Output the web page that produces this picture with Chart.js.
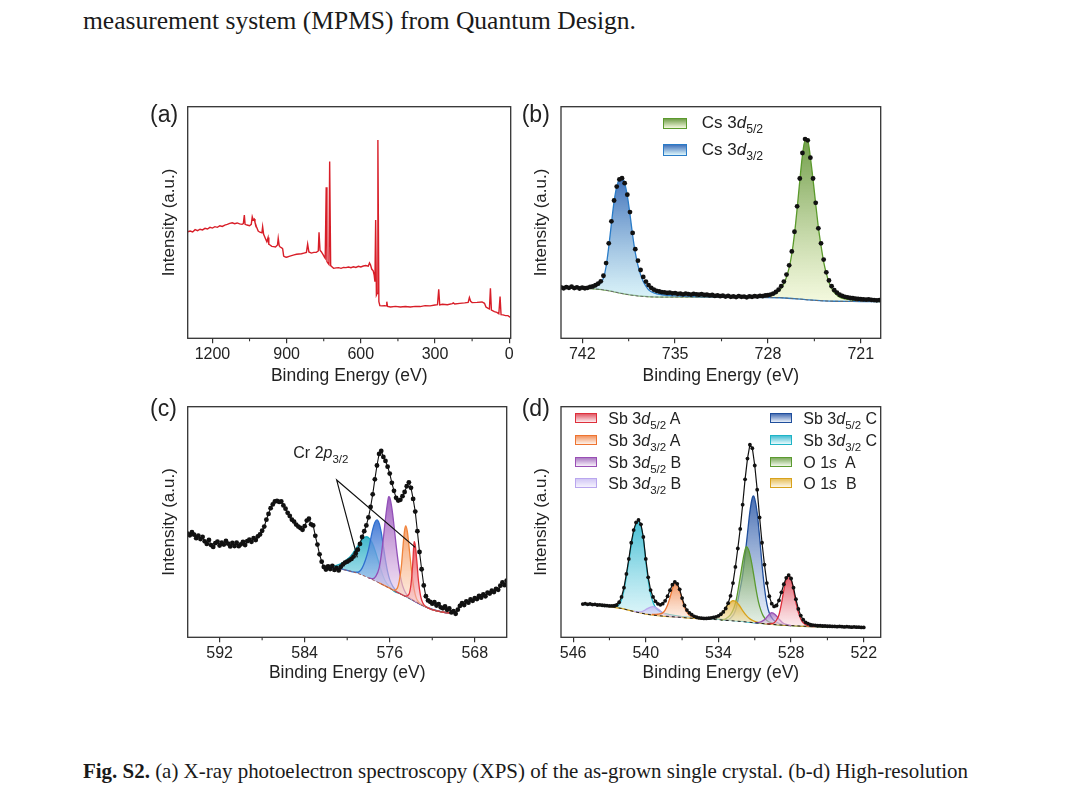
<!DOCTYPE html>
<html>
<head>
<meta charset="utf-8">
<script src="https://cdn.jsdelivr.net/npm/chart.js@4.4.1/dist/chart.umd.min.js"></script>
<style>
  html, body { margin: 0; padding: 0; background: #fff; }
  body { width: 1080px; height: 802px; position: relative; overflow: hidden; }
  canvas { position: absolute; }
  .t { position: absolute; white-space: nowrap; color: #1a1a1a; }
  .serif { font-family: "Liberation Serif", "Times New Roman", serif; transform-origin: 0 0; display: inline-block; }
  .sans { font-family: "Liberation Sans", Arial, sans-serif; color: #222; }
  .sw { position: absolute; box-sizing: border-box; }
  sub { font-size: 0.72em; line-height: 0; position: relative; top: 0.05em; vertical-align: sub; }
</style>
</head>
<body>
<div class="t serif" id="topText" style="left:83px; top:8.4px; font-size:25px; line-height:25px;">measurement system (MPMS) from Quantum Design.</div>

<canvas id="ca" width="380" height="300" style="left:140px; top:95px;"></canvas>
<canvas id="cb" width="380" height="300" style="left:514px; top:95px;"></canvas>
<canvas id="cc" width="380" height="300" style="left:140px; top:395px;"></canvas>
<canvas id="cd" width="380" height="300" style="left:514px; top:395px;"></canvas>

<div class="t sans" style="left:150px; top:103.2px; font-size:23px; line-height:23px;">(a)</div>
<div class="t sans" style="left:521.7px; top:103.2px; font-size:23px; line-height:23px;">(b)</div>
<div class="t sans" style="left:150px; top:397.3px; font-size:23px; line-height:23px;">(c)</div>
<div class="t sans" style="left:521.7px; top:397.3px; font-size:23px; line-height:23px;">(d)</div>

<div class="t sans" style="left:293.3px; top:444.8px; font-size:16px; line-height:16px;">Cr 2<i>p</i><sub>3/2</sub></div>

<div id="legendB"></div>
<div id="legendD"></div>

<div class="t serif" id="caption" style="left:83px; top:760.7px; font-size:21px; line-height:21px;"><b>Fig. S2.</b> (a) X-ray photoelectron spectroscopy (XPS) of the as-grown single crystal. (b-d) High-resolution</div>

<script>
// ---------------- DATA ----------------
// (a) survey spectrum
const aEnergy = [1300,1290,1280,1270,1260,1250,1240,1230,1220,1210,1200,1190,1180,1170,1160,1150,1140,1130,1120,1110,1100,1090,1080,1075,1071,1068,1060,1050,1043,1039,1035,1031,1028,1022,1015,1008,1000,997,993,985,980,975,972,967,960,953,945,937,934,930,926,920,916,912,905,900,890,880,870,860,850,840,830,820,815,810,800,790,780,772,769,765,760,752,746,744,740,737,733,729,726,722,716,710,700,690,680,670,660,650,640,630,620,610,600,590,580,570,565,561,556,550,546,543,540,537,534,531,527,523,515,505,498,495,492,480,460,440,420,400,380,360,340,320,300,290,285,281,270,250,230,226,220,200,180,166,161,156,150,130,110,100,94,85,80,76,72,60,50,42,37,33,25,15,5,-2,-6];
const aIntensity = [46.0,46.3,45.9,46.9,46.5,47.1,46.8,47.5,47.2,47.9,47.6,48.2,47.9,48.6,48.3,48.9,49.2,49.6,49.9,49.5,49.8,49.4,49.2,49.5,53.2,49.2,48.9,48.6,49.2,52.5,51.1,51.5,50.1,48.2,46.3,45.8,45.5,48.2,44.9,42.9,41.7,43.5,40.6,40.3,39.7,39.6,39.4,40.3,43.2,40.0,39.4,39.1,38.6,35.5,35.1,35.0,35.4,35.7,36.0,36.3,36.4,36.5,36.8,37.1,40.7,37.3,36.8,37.1,37.1,37.7,45.8,38.0,37.4,36.0,34.8,34.5,65.2,33.1,32.5,31.9,76.3,31.4,30.8,30.2,30.4,30.5,30.2,30.6,30.5,30.8,30.5,30.9,30.6,31.1,30.8,31.2,31.4,31.1,32.5,31.7,29.9,29.1,27.3,24.5,51.1,18.7,19.4,85.6,15.8,14.1,14.0,14.1,14.0,15.8,13.8,13.5,13.8,13.5,13.7,13.5,13.8,13.7,14.1,14.0,14.4,14.5,21.2,14.4,14.7,14.5,15.0,15.3,14.8,15.1,15.3,15.5,17.6,16.0,15.4,15.5,15.7,15.1,13.5,12.9,12.7,21.6,12.2,11.5,11.2,10.6,18.0,10.2,10.1,9.8,9.8,9.2,9.4];
const aTicks = [1200, 900, 600, 300, 0];
const aMinor = [1050, 750, 450, 150];

// (b) Cs 3d
const bEnergy = [743.6,743.4,743.2,743.0,742.8,742.6,742.4,742.2,742.0,741.8,741.6,741.4,741.2,741.0,740.8,740.6,740.4,740.2,740.0,739.8,739.6,739.4,739.2,739.0,738.8,738.6,738.4,738.2,738.0,737.8,737.6,737.4,737.2,737.0,736.8,736.6,736.4,736.2,736.0,735.8,735.6,735.4,735.2,735.0,734.8,734.6,734.4,734.2,734.0,733.8,733.6,733.4,733.2,733.0,732.8,732.6,732.4,732.2,732.0,731.8,731.6,731.4,731.2,731.0,730.8,730.6,730.4,730.2,730.0,729.8,729.6,729.4,729.2,729.0,728.8,728.6,728.4,728.2,728.0,727.8,727.6,727.4,727.2,727.0,726.8,726.6,726.4,726.2,726.0,725.8,725.6,725.4,725.2,725.0,724.8,724.6,724.4,724.2,724.0,723.8,723.6,723.4,723.2,723.0,722.8,722.6,722.4,722.2,722.0,721.8,721.6,721.4,721.2,721.0,720.8,720.6,720.4,720.2,720.0,719.8,719.6];
const bCounts = [22.0,21.6,22.1,21.8,22.3,21.7,22.0,21.5,21.9,21.6,21.8,22.2,22.4,22.9,23.6,24.6,27.0,32.5,41.0,50.5,59.5,65.5,68.6,69.1,67.0,62.0,54.5,45.5,38.5,33.5,29.5,26.5,24.5,23.0,21.8,21.0,20.5,20.2,19.9,19.8,19.6,19.7,19.4,19.5,19.2,19.3,19.0,19.3,19.1,18.9,19.2,19.0,18.8,19.1,18.7,18.9,18.5,18.7,18.3,18.5,18.2,18.4,18.0,18.3,17.9,18.1,17.8,18.2,17.9,18.0,17.7,18.1,17.9,18.2,18.0,18.3,18.2,18.5,18.6,18.9,19.3,20.0,21.0,22.5,24.5,27.5,31.5,37.5,46.0,57.0,69.0,80.0,86.0,85.5,78.0,69.0,58.5,47.5,41.0,34.0,28.5,25.0,22.5,20.8,19.7,18.8,18.3,17.9,17.7,17.4,17.3,17.1,17.0,16.9,16.8,16.7,16.8,16.6,16.5,16.4,16.5];
const bBgEnergy = [743.6,742,741,740.5,740,739.5,739,738.5,738,737.5,737,736,734,730,728,727,726.5,726,725.5,725,724.5,724,723,721,719.6];
const bBg = [21.8,21.6,21.3,21.0,20.5,19.9,19.3,18.8,18.4,18.1,17.9,17.8,17.8,17.7,17.6,17.5,17.3,17.1,16.9,16.6,16.4,16.2,16.0,15.9,15.8];
const bCs32Energy = [743.6,742.5,741.5,741.0,740.6,740.4,740.2,740.0,739.8,739.6,739.4,739.2,739.0,738.8,738.6,738.4,738.2,738.0,737.8,737.6,737.4,737.2,737.0,736.6,736.0,735.0,733.0,730.0,727.0,725.0,723.0,721.0,719.6];
const bCs32 = [21.9,22.0,22.2,22.6,24.0,26.0,31.0,39.5,49.5,59.0,65.5,68.5,69.0,67.0,61.5,53.5,44.5,37.0,31.5,27.5,24.5,22.5,21.0,19.6,18.8,18.3,17.9,17.7,17.5,16.6,16.0,15.9,15.8];
const bCs52Energy = [743.6,741.0,740.0,739.0,738.0,737.0,735.0,732.0,730.0,728.5,728.0,727.6,727.2,727.0,726.8,726.6,726.4,726.2,726.0,725.8,725.6,725.4,725.2,725.0,724.8,724.6,724.4,724.2,724.0,723.8,723.6,723.4,723.2,723.0,722.6,722.0,721.0,719.6];
const bCs52 = [21.8,21.3,20.6,19.4,18.5,18.0,17.9,17.9,17.9,18.1,18.3,18.8,20.3,21.6,23.6,26.5,30.5,36.5,45.0,56.0,68.0,79.0,85.5,85.3,78.0,68.5,58.0,48.0,40.0,33.0,28.0,24.2,21.5,19.7,17.8,16.8,16.2,15.9];
const bTicks = [742, 735, 728, 721];
const bMinor = [738.5, 731.5, 724.5];

// (c) Cr 2p
const cEnergy = [595.0,594.8,594.6,594.4,594.2,594.0,593.8,593.6,593.4,593.2,593.0,592.8,592.6,592.4,592.2,592.0,591.8,591.6,591.4,591.2,591.0,590.8,590.6,590.4,590.2,590.0,589.8,589.6,589.4,589.2,589.0,588.8,588.6,588.4,588.2,588.0,587.8,587.6,587.4,587.2,587.0,586.8,586.6,586.4,586.2,586.0,585.8,585.6,585.4,585.2,585.0,584.8,584.6,584.4,584.2,584.0,583.8,583.6,583.4,583.2,583.0,582.8,582.6,582.4,582.2,582.0,581.8,581.6,581.4,581.2,581.0,580.8,580.6,580.4,580.2,580.0,579.8,579.6,579.4,579.2,579.0,578.8,578.6,578.4,578.2,578.0,577.8,577.6,577.4,577.2,577.0,576.8,576.6,576.4,576.2,576.0,575.8,575.6,575.4,575.2,575.0,574.8,574.6,574.4,574.2,574.0,573.8,573.6,573.4,573.2,573.0,572.8,572.6,572.4,572.2,572.0,571.8,571.6,571.4,571.2,571.0,570.8,570.6,570.4,570.2,570.0,569.8,569.6,569.4,569.2,569.0,568.8,568.6,568.4,568.2,568.0,567.8,567.6,567.4,567.2,567.0,566.8,566.6,566.4,566.2,566.0,565.8,565.6,565.4,565.2,565.0];
const cCounts = [45.0,44.2,45.6,44.5,43.0,44.1,42.6,43.5,41.6,40.5,42.2,40.0,39.2,40.8,41.5,39.8,41.0,40.2,41.8,40.6,39.4,40.9,39.6,41.0,39.5,40.3,41.4,40.0,41.7,42.3,41.4,43.0,42.2,43.8,44.6,46.2,48.0,51.0,53.5,56.0,57.6,58.9,59.2,58.7,58.9,57.2,55.8,54.0,52.6,51.0,50.2,48.9,48.0,47.4,46.6,48.2,50.6,51.4,49.0,48.5,44.0,40.2,36.0,32.8,30.5,29.4,30.8,29.6,31.0,29.2,30.1,29.0,30.6,31.6,32.4,32.8,33.4,34.0,35.0,36.5,38.0,40.5,43.5,46.0,48.5,52.0,56.5,62.0,68.5,74.5,79.5,80.8,78.2,76.5,74.0,71.0,67.0,63.5,60.5,59.3,59.6,61.2,63.0,65.5,67.2,64.8,60.0,54.5,46.0,37.0,29.5,22.5,17.8,16.0,15.4,14.6,15.2,13.8,14.4,13.0,12.6,13.4,11.9,12.5,10.8,11.3,10.2,12.0,13.6,14.8,14.0,15.6,15.0,16.4,15.8,17.0,16.6,18.0,17.2,18.6,17.8,19.4,19.0,20.2,19.6,21.0,20.6,22.4,23.8,22.6,24.6];
const cBgEnergy = [582.2,581.0,580.0,579.0,578.0,577.0,576.0,575.0,574.0,573.0,572.0,571.0,570.2];
const cBg = [30.2,29.7,29.0,27.7,25.8,23.6,21.2,18.8,16.5,14.0,12.0,10.9,10.4];
const cCyanEnergy = [582.2,581.6,581.0,580.5,580.0,579.6,579.2,578.8,578.5,578.2,577.9,577.6,577.3,577.0,576.7,576.4,576.0,575.6,575.0,574.0,573.0,572.0,571.0,570.2];
const cCyan = [30.2,30.6,31.2,32.2,33.8,35.6,38.3,41.0,42.8,43.6,42.8,40.5,36.5,32.0,27.5,24.2,21.8,20.0,18.9,16.5,14.0,12.0,10.9,10.4];
const cBlueEnergy = [582.2,580.5,579.5,579.0,578.6,578.3,578.0,577.8,577.6,577.4,577.2,577.0,576.8,576.6,576.4,576.2,576.0,575.7,575.3,574.5,573.5,572.5,571.0,570.2];
const cBlue = [30.2,29.6,28.4,28.2,30.0,33.3,38.0,42.5,46.8,49.8,50.9,49.5,45.5,39.5,33.5,28.5,25.0,22.0,19.9,17.8,15.3,13.0,10.9,10.4];
const cPurpleEnergy = [578.0,577.6,577.3,577.0,576.8,576.6,576.4,576.2,576.1,576.0,575.8,575.6,575.4,575.2,575.0,574.8,574.5,574.0,573.0,572.0,571.0,570.2];
const cPurple = [25.8,25.4,26.5,30.0,35.5,43.0,51.5,58.5,61.0,60.6,56.0,48.5,40.0,32.5,26.5,22.5,19.2,16.7,14.0,12.0,10.9,10.4];
const cOrangeEnergy = [577.0,576.0,575.6,575.3,575.1,574.9,574.75,574.6,574.5,574.35,574.2,574.0,573.8,573.6,573.4,573.0,572.0,571.0,570.2];
const cOrange = [23.6,21.3,20.4,21.2,24.5,31.0,39.5,46.5,48.3,46.0,40.0,31.0,23.5,18.5,16.0,14.2,12.0,10.9,10.4];
const cRedEnergy = [575.5,575.0,574.5,574.2,574.0,573.85,573.75,573.7,573.6,573.45,573.3,573.1,572.9,572.5,572.0,571.0,570.2];
const cRed = [20.0,18.9,17.8,18.6,23.0,31.0,39.0,41.5,40.0,33.0,24.5,18.0,15.0,13.0,12.0,10.9,10.4];
const cAnnotEnergy = [579.05, 580.99, 573.6];
const cAnnotLevel = [34.7, 68.2, 39.0];
const cTicks = [592, 584, 576, 568];
const cMinor = [588, 580, 572];

// (d) Sb 3d / O 1s
const dEnergy = [545.2,545.0,544.8,544.6,544.4,544.2,544.0,543.8,543.6,543.4,543.2,543.0,542.8,542.6,542.4,542.2,542.0,541.8,541.6,541.4,541.2,541.0,540.8,540.6,540.4,540.2,540.0,539.8,539.6,539.4,539.2,539.0,538.8,538.6,538.4,538.2,538.0,537.8,537.6,537.4,537.2,537.0,536.8,536.6,536.4,536.2,536.0,535.8,535.6,535.4,535.2,535.0,534.8,534.6,534.4,534.2,534.0,533.8,533.6,533.4,533.2,533.0,532.8,532.6,532.4,532.2,532.0,531.8,531.6,531.4,531.2,531.0,530.8,530.6,530.4,530.2,530.0,529.8,529.6,529.4,529.2,529.0,528.8,528.6,528.4,528.2,528.0,527.8,527.6,527.4,527.2,527.0,526.8,526.6,526.4,526.2,526.0,525.8,525.6,525.4,525.2,525.0,524.8,524.6,524.4,524.2,524.0,523.8,523.6,523.4,523.2,523.0,522.8,522.6,522.4,522.2,522.0];
const dCounts = [14.4,14.6,14.3,14.5,14.2,14.3,14.0,14.1,13.9,13.8,13.7,13.6,13.6,13.7,14.0,15.2,17.5,21.5,27.5,34.0,41.0,46.5,49.8,50.9,49.0,43.5,34.0,26.0,20.5,17.5,15.6,14.5,14.1,14.6,15.8,17.8,20.4,22.8,24.0,23.2,20.8,17.0,13.8,11.8,10.6,9.8,9.1,8.7,8.4,8.3,8.2,8.2,8.3,8.4,8.6,8.9,9.3,10.0,11.0,12.5,14.8,18.0,23.5,30.5,38.5,47.0,57.5,68.5,77.5,83.5,82.0,74.5,64.0,52.0,41.0,31.5,23.5,17.8,14.6,13.4,13.8,16.0,19.5,23.0,25.8,27.0,25.5,21.5,16.5,12.3,9.4,7.6,6.5,5.9,5.5,5.3,5.2,5.0,5.0,4.9,4.9,4.8,4.8,4.7,4.7,4.6,4.7,4.6,4.5,4.6,4.5,4.4,4.5,4.4,4.4,4.3,4.3];
const dBgEnergy = [545.2,544.0,543.0,542.0,541.0,540.0,539.0,538.0,537.0,536.0,535.0,534.0,533.0,532.0,531.0,530.0,529.0,528.0,527.0,526.0,524.0,522.0];
const dBg = [14.3,13.9,13.3,12.5,11.2,10.1,9.4,9.0,8.6,8.2,7.9,7.6,7.2,6.8,6.3,5.8,5.4,5.1,4.8,4.6,4.5,4.3];
const dSb52AEnergy = [530.0,529.5,529.2,529.0,528.8,528.6,528.4,528.2,528.0,527.8,527.6,527.4,527.2,527.0,526.6,526.0];
const dSb52A = [5.8,6.0,7.5,9.8,14.5,20.5,25.0,26.6,25.0,20.5,15.0,10.8,8.0,6.3,5.0,4.6];
const dSb32AEnergy = [539.5,539.0,538.6,538.4,538.2,538.0,537.8,537.6,537.4,537.2,537.0,536.8,536.6,536.4,536.0,535.5,535.0];
const dSb32A = [9.9,10.0,10.6,11.8,14.0,17.2,21.0,23.6,22.8,20.2,16.4,13.0,10.9,9.6,8.7,8.2,7.9];
const dSb52BEnergy = [531.0,530.5,530.2,529.9,529.6,529.3,529.0,528.7,528.3,528.0];
const dSb52B = [6.3,6.7,7.6,9.4,10.7,9.8,7.9,6.3,5.4,5.1];
const dSb32BEnergy = [541.0,540.5,540.2,539.9,539.6,539.4,539.2,538.9,538.6,538.2,537.8,537.0];
const dSb32B = [11.2,11.0,11.4,12.3,13.1,13.3,13.0,11.9,10.6,9.5,9.0,8.6];
const dSb52CEnergy = [533.5,533.0,532.6,532.3,532.0,531.8,531.6,531.4,531.2,531.1,531.0,530.8,530.6,530.4,530.2,530.0,529.8,529.5,529.0,528.0];
const dSb52C = [7.4,8.3,11.5,18.5,27.0,35.5,45.0,54.5,60.5,61.3,60.0,54.0,43.5,31.5,21.5,14.5,10.5,7.8,6.0,5.1];
const dSb32CEnergy = [545.2,544.0,543.0,542.4,542.2,542.0,541.8,541.6,541.4,541.2,541.0,540.8,540.6,540.4,540.2,540.0,539.8,539.6,539.4,539.2,539.0,538.6,538.0,537.0,536.0,535.0,534.0,533.0,532.0,531.0,530.0,529.0,528.0,527.0,526.0,524.0,522.0];
const dSb32C = [14.3,13.9,13.4,13.3,14.2,16.4,20.4,26.4,33.0,40.0,45.6,49.0,50.3,48.3,42.5,33.0,24.8,18.8,15.2,13.0,11.8,10.6,9.8,9.0,8.6,8.2,7.9,7.4,6.9,6.3,5.8,5.4,5.1,4.8,4.6,4.5,4.3];
const dO1sAEnergy = [533.8,533.4,533.0,532.7,532.5,532.3,532.1,531.9,531.7,531.5,531.3,531.1,530.9,530.7,530.5,530.3,530.0,529.6,529.0];
const dO1sA = [7.5,8.0,9.8,13.0,17.0,23.0,29.5,35.5,39.3,37.8,33.5,27.5,21.0,15.5,11.8,9.3,7.3,6.2,5.5];
const dO1sBEnergy = [544.0,543.0,542.0,541.0,540.0,539.0,538.0,537.0,536.0,535.0,534.5,534.0,533.6,533.3,533.0,532.8,532.6,532.3,532.0,531.7,531.4,531.0,530.5,530.0,529.0,528.0,527.0,526.0,524.0,522.0];
const dO1sB = [13.9,13.3,12.5,11.2,10.1,9.4,9.0,8.6,8.2,8.0,8.3,9.3,11.2,13.6,15.2,15.9,15.6,14.0,11.6,9.5,8.0,6.9,6.1,5.8,5.4,5.1,4.8,4.6,4.5,4.3];
const dTicks = [546, 540, 534, 528, 522];
const dMinor = [543, 537, 531, 525];

// ---------------- STYLE ----------------
const FONT = "'Liberation Sans', Arial, sans-serif";
const ST = {
  bGreen:  {line:'#5b9a2c', top:'rgba(95,145,50,0.88)',  bottom:'rgba(238,246,205,0.65)'},
  bBlue:   {line:'#2a7cc8', top:'rgba(45,100,180,0.9)',  bottom:'rgba(205,242,248,0.65)'},
  cCyan:   {line:'#1aaec4', top:'rgba(30,170,195,0.85)', bottom:'rgba(215,245,250,0.6)'},
  cBlue:   {line:'#2f6fcf', top:'rgba(50,110,210,0.9)',  bottom:'rgba(215,230,250,0.5)'},
  cPurple: {line:'#9250b8', top:'rgba(150,80,185,0.9)',  bottom:'rgba(245,225,245,0.5)'},
  cOrange: {line:'#f0843c', top:'rgba(245,150,90,0.9)',  bottom:'rgba(252,230,215,0.5)'},
  cRed:    {line:'#e2323c', top:'rgba(230,60,70,0.9)',   bottom:'rgba(250,215,220,0.5)'},
  dRed:    {line:'#de2f3b', top:'rgba(220,60,75,0.85)',  bottom:'rgba(250,220,225,0.5)'},
  dOrange: {line:'#ee7430', top:'rgba(240,130,70,0.85)', bottom:'rgba(252,230,215,0.5)'},
  dPurple: {line:'#9a4fb5', top:'rgba(150,90,180,0.8)',  bottom:'rgba(240,225,245,0.5)'},
  dLav:    {line:'#b9a6ee', top:'rgba(190,175,240,0.7)', bottom:'rgba(235,230,252,0.5)'},
  dBlue:   {line:'#1f4e9c', top:'rgba(40,85,165,0.85)',  bottom:'rgba(210,225,245,0.5)'},
  dCyan:   {line:'#1eb4c6', top:'rgba(40,180,205,0.85)', bottom:'rgba(215,245,250,0.55)'},
  dGreen:  {line:'#5b9a30', top:'rgba(95,150,55,0.8)',   bottom:'rgba(230,242,215,0.5)'},
  dGold:   {line:'#d8a21c', top:'rgba(225,175,50,0.8)',  bottom:'rgba(250,238,205,0.5)'}
};

// ---------------- HELPERS ----------------
const pts = (xs, ys) => xs.map((x, i) => ({x: x, y: ys[i]}));

function grad(st, vals) {
  return (ctx) => {
    const ch = ctx.chart;
    if (!ch.chartArea) return st.top;
    const ys = ch.scales.y;
    const y0 = ys.getPixelForValue(Math.max.apply(null, vals));
    const y1 = ys.getPixelForValue(Math.min.apply(null, vals));
    const g = ch.ctx.createLinearGradient(0, y0, 0, y1 + 1);
    g.addColorStop(0, st.top);
    g.addColorStop(1, st.bottom);
    return g;
  };
}
function measured(xs, ys, radius, lineW) {
  return {data: pts(xs, ys), order: 0, borderColor: '#111', borderWidth: lineW, showLine: lineW > 0,
    pointRadius: radius, pointBackgroundColor: '#111', pointBorderWidth: 0, fill: false, tension: 0};
}
function background(xs, ys, color, dash) {
  return {data: pts(xs, ys), order: 1, borderColor: color, borderWidth: 1, borderDash: dash,
    pointRadius: 0, fill: false, cubicInterpolationMode: 'monotone'};
}
function component(xs, ys, st, order) {
  return {data: pts(xs, ys), order: order, borderColor: st.line, borderWidth: 1.3, pointRadius: 0,
    cubicInterpolationMode: 'monotone', fill: 1, backgroundColor: grad(st, ys)};
}

const framePlugin = {
  id: 'frame',
  afterDatasetsDraw(chart, args, opts) {
    if (!opts.annot) return;
    const {ctx, scales: {x, y}} = chart;
    ctx.save();
    ctx.strokeStyle = '#111'; ctx.lineWidth = 1.2;
    ctx.beginPath();
    opts.annot.e.forEach((e, i) => {
      const px = x.getPixelForValue(e), py = y.getPixelForValue(opts.annot.v[i]);
      if (i === 0) ctx.moveTo(px, py); else ctx.lineTo(px, py);
    });
    ctx.stroke();
    ctx.restore();
  },
  afterDraw(chart, args, opts) {
    const {ctx, chartArea: a, scales: {x}} = chart;
    ctx.save();
    ctx.strokeStyle = '#333'; ctx.lineWidth = 1.3;
    ctx.strokeRect(a.left, a.top, a.right - a.left, a.bottom - a.top);
    ctx.lineWidth = 1.1;
    (opts.minor || []).forEach(v => {
      const px = x.getPixelForValue(v);
      ctx.beginPath(); ctx.moveTo(px, a.bottom); ctx.lineTo(px, a.bottom + 3); ctx.stroke();
    });
    ctx.restore();
  }
};

function makeChart(id, cfg) {
  return new Chart(document.getElementById(id), {
    type: 'line',
    data: {datasets: cfg.datasets},
    plugins: [framePlugin],
    options: {
      responsive: false, animation: false, events: [],
      layout: {padding: cfg.pad},
      plugins: {legend: {display: false}, tooltip: {enabled: false},
        frame: {minor: cfg.minor, annot: cfg.annot || null}},
      scales: {
        x: {type: 'linear', reverse: true, min: cfg.xmin, max: cfg.xmax, bounds: 'data',
          afterBuildTicks: s => { s.ticks = cfg.ticks.map(v => ({value: v})); },
          afterFit: s => { s.height = cfg.xh; },
          ticks: {font: {family: FONT, size: 16}, color: '#222', padding: 1.5, maxRotation: 0, autoSkip: false,
            callback: v => String(v)},
          grid: {display: true, drawOnChartArea: false, drawTicks: true, tickLength: 5, color: '#333', lineWidth: 1.2},
          border: {display: false},
          title: {display: true, text: 'Binding Energy (eV)', color: '#222',
            font: {family: FONT, size: 17.5}, padding: {top: 0, bottom: cfg.xtPad}}
        },
        y: {min: 0, max: 100,
          afterFit: s => { s.width = cfg.yw; },
          ticks: {display: false}, grid: {display: false}, border: {display: false},
          title: {display: true, text: 'Intensity (a.u.)', color: '#222',
            font: {family: FONT, size: 17}, padding: {top: cfg.ytPad, bottom: 0}}
        }
      }
    }
  });
}

// ---------------- CHARTS ----------------
makeChart('ca', {
  datasets: [{data: pts(aEnergy, aIntensity), borderColor: '#d81e28', borderWidth: 1.4, pointRadius: 0, fill: false, tension: 0}],
  xmin: -6, xmax: 1300, ticks: aTicks, minor: aMinor,
  pad: {left: 0, top: 11.7, right: 9.3, bottom: 0}, yw: 47.7, xh: 56.7, ytPad: 19.3, xtPad: 8.5
});

makeChart('cb', {
  datasets: [
    measured(bEnergy, bCounts, 2.4, 0),
    background(bBgEnergy, bBg, '#6a6a6a', [3, 2]),
    component(bCs52Energy, bCs52, ST.bGreen, 3),
    component(bCs32Energy, bCs32, ST.bBlue, 2)
  ],
  xmin: 719.5, xmax: 743.6, ticks: bTicks, minor: bMinor,
  pad: {left: 0, top: 11.7, right: 13.3, bottom: 0}, yw: 47, xh: 56.7, ytPad: 17.5, xtPad: 8.5
});

makeChart('cc', {
  datasets: [
    measured(cEnergy, cCounts, 2.4, 1.1),
    background(cBgEnergy, cBg, '#a05a5a', [3, 2]),
    component(cCyanEnergy, cCyan, ST.cCyan, 6),
    component(cBlueEnergy, cBlue, ST.cBlue, 5),
    component(cPurpleEnergy, cPurple, ST.cPurple, 4),
    component(cOrangeEnergy, cOrange, ST.cOrange, 3),
    component(cRedEnergy, cRed, ST.cRed, 2)
  ],
  annot: {e: cAnnotEnergy, v: cAnnotLevel},
  xmin: 565, xmax: 595, ticks: cTicks, minor: cMinor,
  pad: {left: 0, top: 11.7, right: 13.3, bottom: 0}, yw: 47.7, xh: 57.7, ytPad: 19.3, xtPad: 11
});

makeChart('cd', {
  datasets: [
    measured(dEnergy, dCounts, 1.9, 1.2),
    background(dBgEnergy, dBg, '#222', [3, 3]),
    component(dSb52AEnergy, dSb52A, ST.dRed, 2),
    component(dSb32AEnergy, dSb32A, ST.dOrange, 3),
    component(dSb52BEnergy, dSb52B, ST.dPurple, 4),
    component(dSb32BEnergy, dSb32B, ST.dLav, 5),
    component(dO1sBEnergy, dO1sB, ST.dGold, 6),
    component(dO1sAEnergy, dO1sA, ST.dGreen, 7),
    component(dSb52CEnergy, dSb52C, ST.dBlue, 8),
    component(dSb32CEnergy, dSb32C, ST.dCyan, 9)
  ],
  xmin: 520.6, xmax: 547, ticks: dTicks, minor: dMinor,
  pad: {left: 0, top: 11.7, right: 13.3, bottom: 0}, yw: 47, xh: 57.7, ytPad: 17.5, xtPad: 11
});

// ---------------- LEGENDS ----------------
function legendItem(parent, st, sx, sy, sw, sh, tx, ty, fs, html) {
  const s = document.createElement('div');
  s.className = 'sw';
  s.style.cssText = `left:${sx}px;top:${sy}px;width:${sw}px;height:${sh}px;border:1.4px solid ${st.line};` +
    `background:linear-gradient(to bottom, ${st.top}, ${st.bottom});`;
  parent.appendChild(s);
  const t = document.createElement('div');
  t.className = 't sans';
  t.style.cssText = `left:${tx}px;top:${ty}px;font-size:${fs}px;line-height:${fs}px;`;
  t.innerHTML = html;
  parent.appendChild(t);
}
const lb = document.getElementById('legendB');
legendItem(lb, ST.bGreen, 663.3, 117.7, 23.4, 11.3, 701.7, 113.9, 17, 'Cs 3<i>d</i><sub>5/2</sub>');
legendItem(lb, ST.bBlue, 663.3, 144.4, 23.4, 11.3, 701.7, 140.6, 17, 'Cs 3<i>d</i><sub>3/2</sub>');

const ld = document.getElementById('legendD');
const dLeft = [
  [ST.dRed, 'Sb 3<i>d</i><sub>5/2</sub> A'],
  [ST.dOrange, 'Sb 3<i>d</i><sub>3/2</sub> A'],
  [ST.dPurple, 'Sb 3<i>d</i><sub>5/2</sub> B'],
  [ST.dLav, 'Sb 3<i>d</i><sub>3/2</sub> B']
];
const dRight = [
  [ST.dBlue, 'Sb 3<i>d</i><sub>5/2</sub> C'],
  [ST.dCyan, 'Sb 3<i>d</i><sub>3/2</sub> C'],
  [ST.dGreen, 'O 1<i>s</i>&nbsp; A'],
  [ST.dGold, 'O 1<i>s</i>&nbsp; B']
];
const rowCenters = [418.3, 440, 461.7, 483.3];
dLeft.forEach((it, i) => legendItem(ld, it[0], 575, rowCenters[i] - 5, 21.7, 10, 608.3, rowCenters[i] + 6.7 - 13.54, 16, it[1]));
dRight.forEach((it, i) => legendItem(ld, it[0], 770, rowCenters[i] - 5, 21.7, 10, 803.3, rowCenters[i] + 6.7 - 13.54, 16, it[1]));

// ---------------- FIT PAGE TEXT WIDTHS ----------------
function fitWidth(id, w) {
  const el = document.getElementById(id);
  const cur = el.getBoundingClientRect().width;
  if (cur > 0) el.style.transform = `scaleX(${w / cur})`;
}
fitWidth('topText', 553);
fitWidth('caption', 885);
</script>
</body>
</html>
